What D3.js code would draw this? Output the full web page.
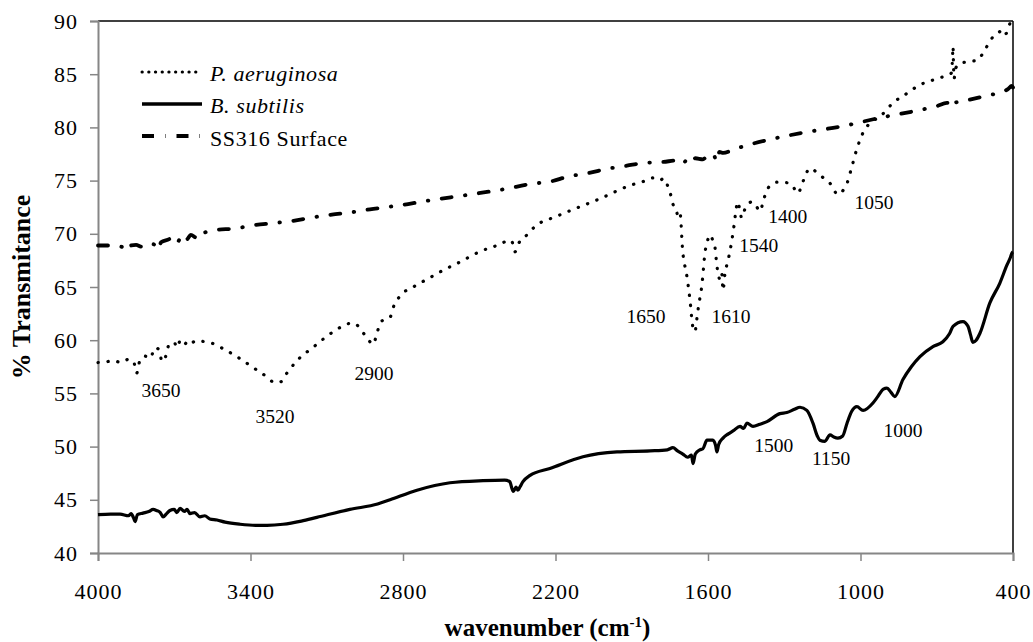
<!DOCTYPE html>
<html><head><meta charset="utf-8">
<script src="https://cdn.jsdelivr.net/npm/d3@7"></script>
<style>
html,body{margin:0;padding:0;background:#fff;}
svg{display:block;}
</style></head>
<body>
<svg id="chart" width="1033" height="642" font-family="Liberation Serif"></svg>
<script>
// ---- data (wavenumber cm-1, % transmittance) ----
const pWn = [4000,3960,3940,3910,3880,3860,3848,3835,3815,3795,3775,3760,3748,3735,3720,3700,3690,3675,3660,3645,3630,3610,3590,3550,3500,3450,3400,3350,3300,3280,3257,3220,3150,3080,3000,2985,2960,2935,2918,2905,2890,2870,2850,2838,2810,2760,2700,2640,2580,2500,2420,2380,2370,2360,2345,2312,2280,2200,2150,2025,1900,1856,1817,1790,1775,1762,1745,1738,1725,1718,1710,1700,1683,1671,1660,1651,1645,1639,1623,1612,1600,1592,1580,1573,1565,1558,1553,1546,1541,1533,1521,1506,1498,1490,1484,1475,1468,1460,1447,1427,1410,1396,1380,1368,1345,1329,1290,1270,1246,1235,1220,1199,1160,1120,1089,1065,1053,1034,1014,990,963,924,872,817,766,715,660,643,638,636,634,632,625,609,570,542,520,503,479,452,440,430,424,415,408,400];
const pT  = [57.9,58.0,58.1,57.9,58.2,58.0,56.9,58.1,58.5,58.3,59.3,59.1,58.0,58.4,59.6,59.8,59.3,60.0,59.6,60.0,59.8,60.0,59.9,59.7,59.1,58.4,57.6,56.8,56.0,56.1,56.9,58.0,59.4,60.7,61.6,61.5,60.8,60.0,59.6,60.4,61.6,62.0,62.2,63.1,64.2,65.0,65.8,66.6,67.3,68.3,69.0,69.4,69.2,68.3,69.1,69.9,70.7,71.6,72.1,73.3,74.6,74.9,75.25,75.0,75.2,74.7,73.5,72.8,72.3,71.6,71.9,68.5,66.0,63.8,61.3,60.8,61.8,62.9,65.4,68.2,69.5,69.9,69.3,68.8,67.0,66.0,65.7,66.3,64.7,66.3,67.5,69.4,70.7,72.2,73.0,72.3,71.5,72.0,72.7,73.0,72.6,72.1,73.3,74.1,74.7,74.85,74.8,74.6,73.8,74.3,75.3,76.15,75.5,74.75,73.7,74.2,74.75,76.3,78.0,79.5,80.4,81.0,82.3,83.2,84.0,84.45,84.9,85.1,86.5,87.6,85.8,84.6,85.6,86.0,86.2,86.3,86.9,87.6,88.5,89.0,89.2,88.8,88.9,89.6,89.9,89.8];

const bWn = [4000,3950,3913,3880,3870,3860,3854,3845,3823,3800,3783,3770,3755,3744,3730,3717,3700,3690,3677,3660,3650,3638,3620,3599,3580,3560,3532,3500,3441,3380,3335,3272,3200,3139,3009,2900,2851,2745,2615,2485,2400,2380,2367,2360,2355,2348,2340,2328,2300,2222,2092,1958,1828,1760,1738,1720,1699,1680,1665,1659,1650,1632,1620,1604,1581,1570,1565,1558,1541,1520,1500,1474,1460,1447,1423,1396,1368,1317,1290,1260,1238,1211,1187,1170,1160,1140,1120,1105,1089,1070,1053,1035,1014,990,951,935,910,896,880,865,833,800,766,715,676,650,636,597,577,567,558,545,530,491,452,424,410,404,400];
const bT  = [43.6,43.65,43.65,43.5,43.7,43.3,42.95,43.6,43.75,43.9,44.1,44.0,43.8,43.4,43.7,44.0,44.1,43.8,44.2,43.9,44.1,43.7,43.8,43.4,43.5,43.2,43.1,42.9,42.7,42.6,42.6,42.7,43.0,43.35,44.1,44.6,45.0,45.9,46.6,46.8,46.85,46.7,45.8,46.0,46.2,45.9,46.2,46.7,47.3,47.95,49.05,49.5,49.6,49.7,49.9,49.6,49.3,49.0,49.2,48.4,49.3,49.7,49.8,50.6,50.6,50.1,49.5,50.2,50.8,51.2,51.5,51.9,51.7,52.2,51.9,52.1,52.35,53.1,53.2,53.5,53.7,53.4,52.2,51.0,50.6,50.5,51.1,50.9,50.8,51.0,52.2,53.3,53.75,53.4,54.1,54.6,55.4,55.5,55.1,54.7,56.3,57.5,58.45,59.4,59.85,60.6,61.3,61.75,61.3,60.5,59.8,60.0,60.65,63.5,65.35,67.05,67.8,68.2,68.3];

const sWn = [4000,3950,3920,3900,3885,3870,3850,3830,3800,3780,3765,3752,3720,3700,3685,3670,3650,3635,3610,3600,3587,3540,3460,3390,3312,3237,3154,3080,3009,2930,2851,2780,2706,2548,2400,2293,2222,2147,2072,1998,1919,1856,1777,1720,1700,1680,1665,1650,1620,1600,1580,1565,1555,1540,1502,1450,1368,1227,1073,924,774,700,660,645,640,630,600,518,450,420,405,400];
const sT  = [68.9,68.9,68.85,68.7,68.4,68.9,68.95,68.8,69.1,69.0,68.5,69.2,69.5,69.8,69.3,69.9,69.5,69.9,69.6,70.05,70.1,70.35,70.5,70.8,71.0,71.2,71.55,71.8,72.0,72.3,72.55,72.8,73.1,73.65,74.2,74.7,74.9,75.4,75.7,76.1,76.4,76.65,76.75,76.9,76.6,77.0,76.7,77.1,77.0,77.4,77.5,76.8,77.7,77.6,77.9,78.3,78.8,79.5,80.1,80.9,81.6,82.0,82.3,82.2,81.9,82.3,82.45,82.9,83.3,83.6,83.9,83.75];

const seriesNames = ["P. aeruginosa","B. subtilis","SS316 Surface"];
const xTicks = [4000,3400,2800,2200,1600,1000,400];
const yTicks = [40,45,50,55,60,65,70,75,80,85,90];
const peakLabels = ["3650","3520","2900","1650","1610","1540","1400","1050","1500","1150","1000"];
const peakWn = [3752,3304,2914,1844,1510,1400,1286,947,1341,1116,833];
const peakT  = [54.66,52.22,56.26,61.62,61.62,68.29,71.02,72.33,49.49,48.27,50.90];

// ---- layout ----
const W = 1033, H = 642;
const m = {left:98, right:20, top:21, bottom:89};
const FONT = "Liberation Serif";
const svg = d3.select("#chart");
const x = d3.scaleLinear().domain([4000,400]).range([m.left, W-m.right]);
const y = d3.scaleLinear().domain([40,90]).range([H-m.bottom, m.top]);
const gray = "#868686";

// frame (top & right)
svg.append("line").attr("x1",x(4000)).attr("x2",x(400)).attr("y1",y(90)).attr("y2",y(90)).attr("stroke","#000").attr("stroke-width",1.5);
svg.append("line").attr("x1",x(400)).attr("x2",x(400)).attr("y1",y(90)).attr("y2",y(40)).attr("stroke","#000").attr("stroke-width",1.5);

// axes
const gx = svg.append("g").attr("transform",`translate(0,${y(40)})`)
  .call(d3.axisBottom(x).tickValues(xTicks).tickSize(8).tickPadding(22).tickFormat(d3.format("d")));
const gy = svg.append("g").attr("transform",`translate(${x(4000)},0)`)
  .call(d3.axisLeft(y).tickValues(yTicks).tickSize(8).tickPadding(12).tickFormat(d3.format("d")));
[gx,gy].forEach(g=>{
  g.attr("font-family",FONT).attr("font-size",22);
  g.select(".domain").attr("stroke",gray).attr("stroke-width",2);
  g.selectAll(".tick line").attr("stroke",gray).attr("stroke-width",1.5);
  g.selectAll(".tick text").attr("font-family",FONT).attr("font-size",22).attr("fill","#000")
    .attr("letter-spacing",1);
});

// lines
const line = (wn,t)=> d3.line().x((d,i)=>x(wn[i])).y((d,i)=>y(t[i])).curve(d3.curveMonotoneX)(wn);
const plot = svg.append("g");
plot.append("path").attr("d",line(sWn,sT)).attr("fill","none").attr("stroke","#000")
  .attr("stroke-width",3.8).attr("stroke-linecap","round").attr("stroke-dasharray","10,13.5,0.5,13.5");
plot.append("path").attr("d",line(pWn,pT)).attr("fill","none").attr("stroke","#000")
  .attr("stroke-width",3.2).attr("stroke-linecap","round").attr("stroke-dasharray","0.3,9.7");
plot.append("path").attr("d",line(bWn,bT)).attr("fill","none").attr("stroke","#000")
  .attr("stroke-width",3.2).attr("stroke-linejoin","round");

// peak annotations
svg.append("g").selectAll("text").data(peakLabels).join("text")
  .attr("x",(d,i)=>x(peakWn[i])).attr("y",(d,i)=>y(peakT[i]))
  .attr("font-family",FONT)
  .attr("text-anchor","middle").attr("font-size",19.5).text(d=>d);

// legend
const leg = svg.append("g");
const legY = [72,104,136], legTextY=[81,112.5,146];
const legStyles = [
  {w:3,dash:"0.3,6.4",cap:"round"},
  {w:3.5,dash:null,cap:"butt"},
  {w:4,dash:"12,11,0.5,11",cap:"butt"}
];
seriesNames.forEach((n,i)=>{
  const st = legStyles[i];
  const l = leg.append("line").attr("x1",142).attr("x2",202).attr("y1",legY[i]).attr("y2",legY[i])
    .attr("stroke","#000").attr("stroke-width",st.w).attr("stroke-linecap",st.cap);
  if(st.dash) l.attr("stroke-dasharray",st.dash);
  leg.append("text").attr("x",210).attr("y",legTextY[i])
    .attr("font-family",FONT).attr("letter-spacing",0.6)
    .attr("font-size",22).attr("font-style",i<2?"italic":"normal").text(n);
});

// axis titles
const xt = svg.append("text").attr("x",(x(4000)+x(400))/2-8).attr("y",636)
  .attr("font-family",FONT)
  .attr("text-anchor","middle").attr("font-size",25).attr("font-weight","bold");
xt.append("tspan").text("wavenumber (cm");
xt.append("tspan").attr("font-size",15).attr("dy",-9).text("-1");
xt.append("tspan").attr("dy",9).text(")");
svg.append("text").attr("transform",`translate(30,${(y(40)+y(90))/2}) rotate(-90)`)
  .attr("font-family",FONT)
  .attr("text-anchor","middle").attr("font-size",26).attr("font-weight","bold").text("% Transmitance");
</script>
</body></html>
